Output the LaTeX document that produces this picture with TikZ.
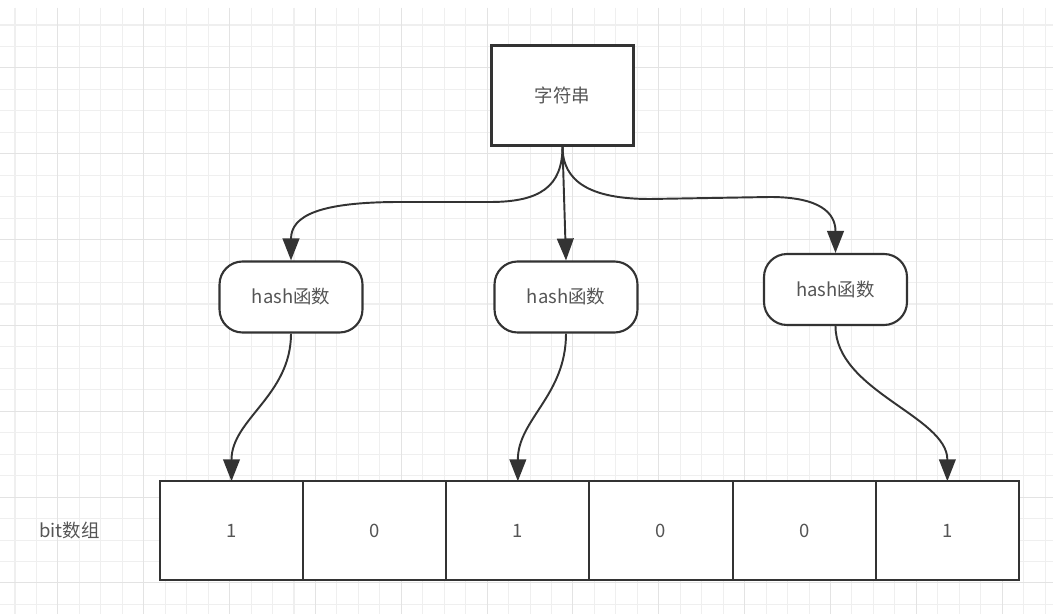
\documentclass[tikz,border=0pt]{standalone}
\usepackage{fontspec}
\setmainfont{Noto Sans CJK SC}
\usepackage{tikz}
\usetikzlibrary{positioning,arrows.meta}
\usepackage{xcolor}
\definecolor{edgegray}{HTML}{333333}
\definecolor{textgray}{HTML}{555555}
\definecolor{gridminor}{HTML}{EFEFEF}
\definecolor{gridmajor}{HTML}{E3E3E3}

\begin{document}
\begin{tikzpicture}[
  x=0.02cm, y=-0.02cm,
  font=\fontsize{10.5pt}{12pt}\selectfont,
  textbox/.style={rectangle, draw=edgegray, line width=1.2pt, fill=white,
    minimum width=2.84cm, minimum height=2.0cm, text=textgray},
  hashbox/.style={rectangle, rounded corners=0.46cm, draw=edgegray, line width=1.2pt,
    fill=white, minimum width=2.86cm, minimum height=1.42cm, text=textgray},
  cell/.style={rectangle, draw=edgegray, line width=1.2pt, fill=white,
    minimum width=2.864cm, minimum height=1.97cm, outer sep=0pt, text=textgray},
  minorline/.style={draw=gridminor, line width=0.6pt},
  majorline/.style={draw=gridmajor, line width=0.6pt},
  link/.style={draw=edgegray, line width=1.1pt},
  >={Triangle[length=12.5pt,width=9.5pt]},
]
  % Background grid
  \fill[white] (0,0) rectangle (1053,614);
  \useasboundingbox (0,0) rectangle (1053,614);
  \foreach \k in {0,...,48} \draw[minorline] ({15+21.46*\k},8) -- ({15+21.46*\k},614);
  \foreach \k in {0,...,27} \draw[minorline] (0,{25+21.46*\k}) -- (1053,{25+21.46*\k});
  \foreach \k in {2,6,...,46} \draw[majorline] ({15+21.46*\k},8) -- ({15+21.46*\k},614);
  \foreach \k in {2,6,...,26} \draw[majorline] (0,{25+21.46*\k}) -- (1053,{25+21.46*\k});

  % Nodes
  \node[textbox] (str) at (562.5,95.5) {字符串};
  \node[hashbox] (h1) at (291,297) {hash函数};
  \node[hashbox] (h2) at (566,297) {hash函数};
  \node[hashbox] (h3) at (835.5,289.5) {hash函数};

  % Bit array
  \node[cell] (c1) at (231.5,530.5) {1};
  \node[cell, right=0pt of c1] (c2) {0};
  \node[cell, right=0pt of c2] (c3) {1};
  \node[cell, right=0pt of c3] (c4) {0};
  \node[cell, right=0pt of c4] (c5) {0};
  \node[cell, right=0pt of c5] (c6) {1};
  \node[text=textgray, left=1.08cm of c1] (bitlabel) {bit数组};

  % Hashing
  \draw[link, ->] (str.south) .. controls +(0,40) and +(50,0) .. (490,202)
    -- (400,202) .. controls +(-80,0) and +(0,-45) .. (h1.north);
  \draw[link, ->] (str.south) -- (h2.north);
  \draw[link, ->] (str.south) .. controls +(0,35) and +(-60,0) .. (650,199)
    -- (770,197) .. controls +(50,0) and +(0,-40) .. (h3.north);

  % Setting bits
  \draw[link, ->] (h1.south) .. controls +(0,62) and +(0,-62) .. (c1.north);
  \draw[link, ->] (h2.south) .. controls +(0,62) and +(0,-62) .. (c3.north);
  \draw[link, ->] (h3.south) .. controls +(0,65) and +(0,-65) .. (c6.north);
\end{tikzpicture}
\end{document}
